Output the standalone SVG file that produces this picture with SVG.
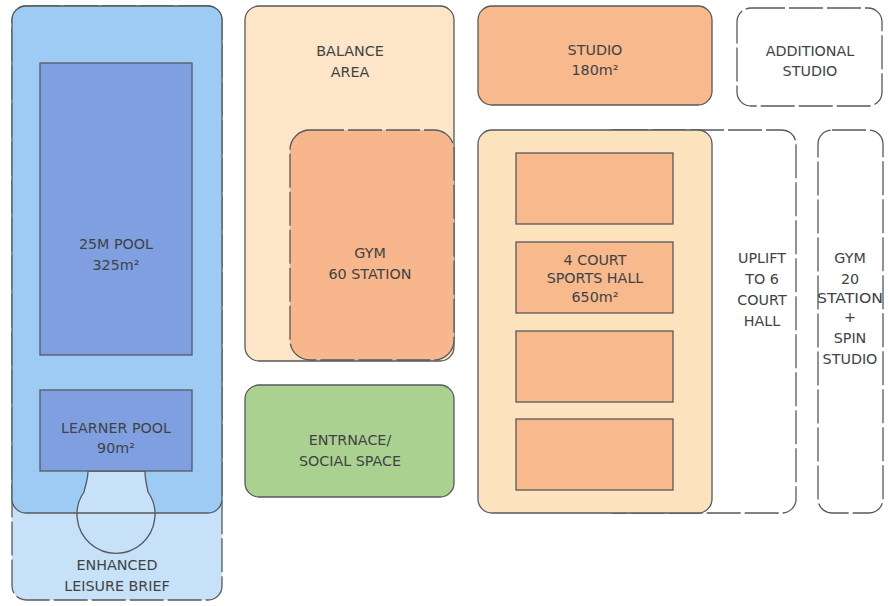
<svg xmlns="http://www.w3.org/2000/svg" width="894" height="606" viewBox="0 0 894 606">
<style>
.s{stroke:#555a5e;stroke-width:1.3}
.d{stroke:#555a5e;stroke-width:1.3;stroke-dasharray:34 4}
text{font-family:"DejaVu Sans","Liberation Sans",sans-serif;font-size:14.3px;fill:#404345;text-anchor:middle}
</style>
<rect width="894" height="606" fill="#ffffff"/>
<g id="enhanced-leisure">
<rect x="12" y="6" width="210" height="594" rx="14" fill="#c6e1f8" class="d"/>
<text x="117" y="570">ENHANCED</text>
<text x="117" y="591">LEISURE BRIEF</text>
</g>
<g id="pool-hall">
<rect x="12" y="6" width="210" height="507" rx="14" fill="#9ecbf3"/>
</g>
<g id="keyhole">
<path d="M88 471 C88 480 85 486 84 492 A39 39 0 1 0 148 492 C147 486 145 480 145 471 Z" fill="#c6e1f8" class="s"/>
</g>
<rect x="12" y="6" width="210" height="507" rx="14" fill="none" class="s"/>
<g id="pool-25m">
<rect x="40" y="63" width="152" height="292" fill="#7f9fe0" class="s"/>
<text x="116" y="249">25M POOL</text>
<text x="116" y="270">325m²</text>
</g>
<g id="learner-pool">
<rect x="40" y="390" width="152" height="81" fill="#7f9fe0" class="s"/>
<text x="116" y="433">LEARNER POOL</text>
<text x="116" y="453">90m²</text>
</g>
<g id="balance-area">
<rect x="245" y="6" width="209" height="355" rx="14" fill="#fde5c8" class="s"/>
<text x="350" y="56">BALANCE</text>
<text x="350" y="77">AREA</text>
</g>
<g id="gym-60">
<rect x="290" y="130" width="164" height="230" rx="20" fill="#f7b68b" class="d"/>
<text x="370" y="258">GYM</text>
<text x="370" y="279">60 STATION</text>
</g>
<g id="entrance">
<rect x="245" y="385" width="209" height="112" rx="14" fill="#aad18f" class="s"/>
<text x="350" y="445">ENTRNACE/</text>
<text x="350" y="466">SOCIAL SPACE</text>
</g>
<g id="studio">
<rect x="478" y="6" width="234" height="99" rx="14" fill="#f8b98d" class="s"/>
<text x="595" y="55">STUDIO</text>
<text x="595" y="75">180m²</text>
</g>
<g id="additional-studio">
<rect x="737" y="8" width="145" height="98" rx="14" fill="#ffffff" class="d"/>
<text x="810" y="56">ADDITIONAL</text>
<text x="810" y="76">STUDIO</text>
</g>
<g id="uplift">
<rect x="600" y="130" width="196" height="383" rx="14" fill="#ffffff" class="d"/>
<text x="762" y="263">UPLIFT</text>
<text x="762" y="284">TO 6</text>
<text x="762" y="305">COURT</text>
<text x="762" y="326">HALL</text>
</g>
<g id="sports-hall">
<rect x="478" y="130" width="234" height="383" rx="14" fill="#fde3bd" class="s"/>
<rect x="516" y="153" width="157" height="71" fill="#f8b98d" class="s"/>
<rect x="516" y="242" width="157" height="71" fill="#f8b98d" class="s"/>
<rect x="516" y="331" width="157" height="71" fill="#f8b98d" class="s"/>
<rect x="516" y="419" width="157" height="71" fill="#f8b98d" class="s"/>
<text x="595" y="265">4 COURT</text>
<text x="595" y="283">SPORTS HALL</text>
<text x="595" y="302">650m²</text>
</g>
<g id="gym-20">
<rect x="818" y="130" width="65" height="383" rx="14" fill="#ffffff" class="d"/>
<text x="850" y="263">GYM</text>
<text x="850" y="284">20</text>
<text x="850" y="303" textLength="66" lengthAdjust="spacingAndGlyphs">STATION</text>
<text x="850" y="322">+</text>
<text x="850" y="343">SPIN</text>
<text x="850" y="364">STUDIO</text>
</g>
<g id="connectors"></g>
</svg>
